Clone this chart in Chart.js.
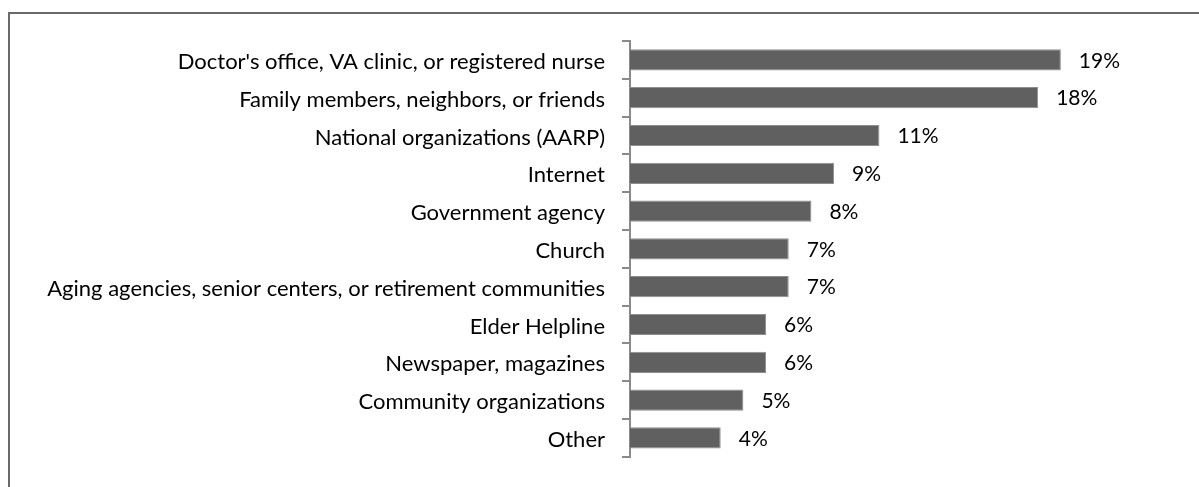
<!DOCTYPE html>
<html>
<head>
<meta charset="utf-8">
<script src="https://cdn.jsdelivr.net/npm/chart.js@4.4.1/dist/chart.umd.min.js"></script>
<style>
  html, body { margin: 0; padding: 0; background: #ffffff; overflow: hidden; }
  #wrap { position: relative; width: 1199px; height: 487px; }
  #frame {
    position: absolute; left: 8px; top: 12px; width: 1300px; height: 600px;
    border: 2px solid #6a6a6a; box-sizing: border-box;
  }
  #chart { position: absolute; left: 0; top: 0; }
</style>
</head>
<body>
<div id="wrap">
  <div id="frame"></div>
  <canvas id="chart" width="1199" height="487"></canvas>
</div>
<script>
// Where people go for information (share of respondents, %)
const categories = [
  "Doctor's office, VA clinic, or registered nurse",
  "Family members, neighbors, or friends",
  "National organizations (AARP)",
  "Internet",
  "Government agency",
  "Church",
  "Aging agencies, senior centers, or retirement communities",
  "Elder Helpline",
  "Newspaper, magazines",
  "Community organizations",
  "Other"
];
const shares = [19, 18, 11, 9, 8, 7, 7, 6, 6, 5, 4];

const FONT = "Lato, 'Open Sans', sans-serif";

// Writes "NN%" just past the end of each bar
const valueLabels = {
  id: 'valueLabels',
  afterDatasetsDraw(chart) {
    const ctx = chart.ctx;
    const meta = chart.getDatasetMeta(0);
    ctx.save();
    ctx.font = "21px " + FONT;
    ctx.fillStyle = '#000000';
    ctx.textAlign = 'left';
    ctx.textBaseline = 'middle';
    meta.data.forEach((bar, i) => {
      ctx.fillText(shares[i] + '%', bar.x + 18, bar.y + 1);
    });
    ctx.restore();
  }
};

new Chart(document.getElementById('chart'), {
  type: 'bar',
  data: {
    labels: categories,
    datasets: [{
      data: shares,
      backgroundColor: '#606060',
      borderColor: '#8e8e8e',
      borderWidth: 1,
      categoryPercentage: 1.0,
      barPercentage: 0.56
    }]
  },
  options: {
    indexAxis: 'y',
    responsive: false,
    animation: false,
    layout: { padding: { top: 41, bottom: 25, right: 86, left: 0 } },
    plugins: {
      legend: { display: false },
      tooltip: { enabled: false }
    },
    scales: {
      x: {
        display: false,
        min: 0,
        max: 21.3
      },
      y: {
        afterFit(scale) { scale.width = 630; },
        grid: {
          drawOnChartArea: false,
          drawTicks: true,
          tickLength: 8,
          color: '#8a8a8a',
          lineWidth: 2,
          offset: true
        },
        border: { display: true, color: '#8a8a8a', width: 2 },
        ticks: {
          color: '#000000',
          padding: 17,
          labelOffset: 2,
          autoSkip: false,
          font: { family: FONT, size: 22 }
        }
      }
    }
  },
  plugins: [valueLabels]
});
</script>
</body>
</html>
